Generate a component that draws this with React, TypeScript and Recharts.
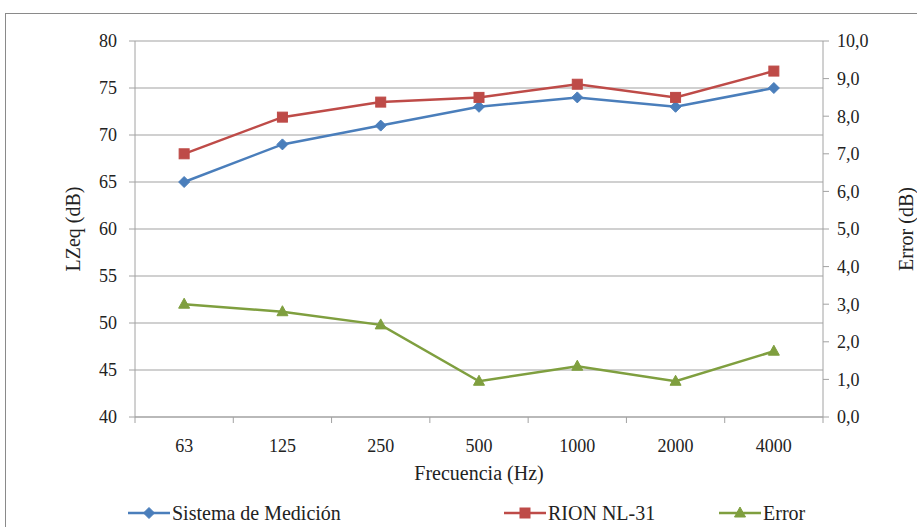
import { LineChart, Line, XAxis, YAxis, CartesianGrid, Label } from "recharts"

const frecuencias = ["63", "125", "250", "500", "1000", "2000", "4000"]
const sistema = [65, 69, 71, 73, 74, 73, 75]
const rion = [68, 71.9, 73.5, 74, 75.4, 74, 76.8]
const error = [3.0, 2.8, 2.45, 0.95, 1.35, 0.95, 1.75]
const leftTicks = [40, 45, 50, 55, 60, 65, 70, 75, 80]
const rightTicks = [0, 1, 2, 3, 4, 5, 6, 7, 8, 9, 10]

const data = frecuencias.map((f, i) => ({
  f,
  sistema: sistema[i],
  rion: rion[i],
  error: error[i],
}))

const AZUL = "#4a7ebb"
const ROJO = "#be4b48"
const VERDE = "#7f9f3f"
const GRIS = "#a2a2a2"
const FONT = "'Liberation Serif', 'DejaVu Serif', 'Times New Roman', serif"

const W = 917
const H = 527
const LEFT = 135
const RIGHT = 823
const TOP = 41
const BOTTOM = 417
const band = (RIGHT - LEFT) / frecuencias.length

const txt = { fill: "#222", fontSize: 18, fontFamily: FONT, style: { fontFamily: FONT } }

const Diamond = (props: any) => {
  const { cx, cy } = props
  if (cx == null || cy == null) return null
  return <path d={`M${cx},${cy - 5.5} L${cx + 5.5},${cy} L${cx},${cy + 5.5} L${cx - 5.5},${cy} Z`} fill={AZUL} stroke={AZUL} />
}

const Square = (props: any) => {
  const { cx, cy } = props
  if (cx == null || cy == null) return null
  return <rect x={cx - 5} y={cy - 5} width={10} height={10} fill={ROJO} stroke={ROJO} />
}

const Triangle = (props: any) => {
  const { cx, cy } = props
  if (cx == null || cy == null) return null
  return <path d={`M${cx},${cy - 6} L${cx + 5.5},${cy + 4} L${cx - 5.5},${cy + 4} Z`} fill={VERDE} stroke={VERDE} />
}

const XTick = (props: any) => {
  const { x, payload, index } = props
  const last = index === frecuencias.length - 1
  return (
    <g>
      <line x1={x - band / 2} x2={x - band / 2} y1={BOTTOM} y2={BOTTOM + 6} stroke={GRIS} />
      {last && <line x1={x + band / 2} x2={x + band / 2} y1={BOTTOM} y2={BOTTOM + 6} stroke={GRIS} />}
      <text x={x} y={452} textAnchor="middle" fill="#222" fontSize={18} style={{ fontFamily: FONT }}>
        {payload.value}
      </text>
    </g>
  )
}

const legendItems = [
  { name: "Sistema de Medición", color: AZUL, x: 128, marker: "d" },
  { name: "RION NL-31", color: ROJO, x: 504, marker: "s" },
  { name: "Error", color: VERDE, x: 719, marker: "t" },
]

const Leyenda = () => (
  <svg width={W} height={26} style={{ position: "absolute", left: 0, top: 500 }}>
    {legendItems.map((it) => {
      const cx = it.x + 21
      const cy = 13
      return (
        <g key={it.name}>
          <line x1={it.x} x2={it.x + 42} y1={cy} y2={cy} stroke={it.color} strokeWidth={2.5} />
          {it.marker === "d" && <Diamond cx={cx} cy={cy} />}
          {it.marker === "s" && <Square cx={cx} cy={cy} />}
          {it.marker === "t" && <Triangle cx={cx} cy={cy} />}
          <text x={it.x + 44} y={cy + 7} fontSize={20} fill="#222" style={{ fontFamily: FONT }}>
            {it.name}
          </text>
        </g>
      )
    })}
  </svg>
)

export default function App() {
  return (
    <div style={{ position: "absolute", left: 0, top: 0, width: W, height: H, background: "#fff", overflow: "hidden", fontFamily: FONT }}>
      <div
        style={{
          position: "absolute",
          left: 5,
          top: 13,
          width: W,
          height: H,
          border: "1.5px solid #8a8a8a",
          boxSizing: "border-box",
        }}
      />
      <div style={{ position: "absolute", left: 0, top: 0 }}>
        <LineChart
          width={W}
          height={H}
          data={data}
          margin={{ top: TOP, right: W - RIGHT - 60, left: LEFT - 60, bottom: H - BOTTOM - 40 }}
        >
          <CartesianGrid vertical={false} stroke={GRIS} strokeWidth={1.2} yAxisId="left" />
          <XAxis
            dataKey="f"
            stroke={GRIS}
            tickLine={false}
            tick={<XTick />}
            height={40}
            interval={0}
            padding={{ left: band / 2, right: band / 2 }}
          >
            <Label value="Frecuencia (Hz)" position="insideBottom" offset={-23} fill="#222" fontSize={20} style={{ fontFamily: FONT }} />
          </XAxis>
          <YAxis
            yAxisId="left"
            width={60}
            domain={[40, 80]}
            ticks={leftTicks}
            stroke={GRIS}
            tickSize={6}
            tickMargin={12}
            tick={txt}
          >
            <Label value="LZeq (dB)" angle={-90} position="insideLeft" offset={-2} fill="#222" fontSize={20} style={{ textAnchor: "middle", fontFamily: FONT }} />
          </YAxis>
          <YAxis
            yAxisId="right"
            orientation="right"
            width={60}
            domain={[0, 10]}
            ticks={rightTicks}
            stroke={GRIS}
            tickSize={6}
            tickMargin={8}
            tickFormatter={(v) => v.toFixed(1).replace(".", ",")}
            tick={txt}
          >
            <Label value="Error (dB)" angle={-90} position="insideRight" offset={-23} fill="#222" fontSize={20} style={{ textAnchor: "middle", fontFamily: FONT }} />
          </YAxis>
          <Line yAxisId="left" dataKey="sistema" name="Sistema de Medición" stroke={AZUL} strokeWidth={2.5} dot={<Diamond />} activeDot={false} isAnimationActive={false} />
          <Line yAxisId="left" dataKey="rion" name="RION NL-31" stroke={ROJO} strokeWidth={2.5} dot={<Square />} activeDot={false} isAnimationActive={false} />
          <Line yAxisId="right" dataKey="error" name="Error" stroke={VERDE} strokeWidth={2.5} dot={<Triangle />} activeDot={false} isAnimationActive={false} />
        </LineChart>
      </div>
      <Leyenda />
    </div>
  )
}
